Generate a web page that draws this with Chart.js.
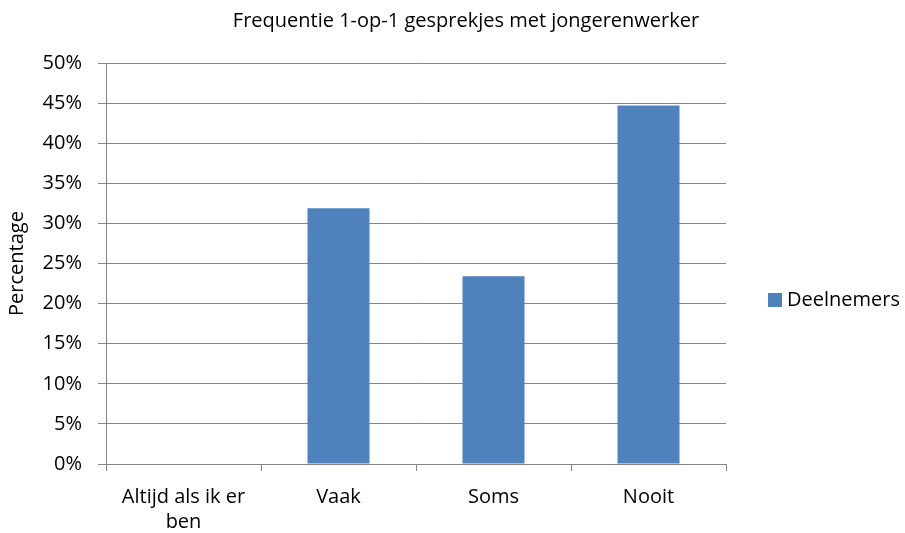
<!DOCTYPE html>
<html>
<head>
<meta charset="utf-8">
<script src="https://cdn.jsdelivr.net/npm/chart.js@4.4.1/dist/chart.umd.min.js"></script>
<style>
html,body{margin:0;padding:0;background:#fff;}
#wrap{width:905px;height:533px;position:relative;}
</style>
</head>
<body>
<div id="wrap"><canvas id="c" width="905" height="533"></canvas></div>
<script>
const categories = [['Altijd als ik er', 'ben'], 'Vaak', 'Soms', 'Nooit'];
const seriesName = 'Deelnemers';
const values = [0, 31.9, 23.4, 44.7];
const yTicks = [0, 5, 10, 15, 20, 25, 30, 35, 40, 45, 50];
const titleText = 'Frequentie 1-op-1 gesprekjes met jongerenwerker';
const yTitle = 'Percentage';

const FONT = "'Open Sans', sans-serif";
const barColor = '#4F81BD';

const extrasPlugin = {
  id: 'extras',
  afterDraw(chart) {
    const ctx = chart.ctx;
    ctx.save();
    // title
    ctx.fillStyle = '#000';
    ctx.font = "20px " + FONT;
    ctx.textBaseline = 'middle';
    ctx.textAlign = 'center';
    ctx.fillText(titleText, 466, 21);
    // legend
    ctx.fillStyle = barColor;
    ctx.fillRect(768, 293, 14, 14);
    ctx.fillStyle = '#000';
    ctx.textAlign = 'left';
    ctx.fillText(seriesName, 787, 300);
    ctx.restore();
  }
};

new Chart(document.getElementById('c'), {
  type: 'bar',
  data: {
    labels: categories,
    datasets: [{
      label: seriesName,
      data: values,
      backgroundColor: barColor,
      borderWidth: 0,
      categoryPercentage: 0.4,
      barPercentage: 1.0
    }]
  },
  options: {
    responsive: false,
    animation: false,
    devicePixelRatio: 1,
    layout: { padding: { left: 0, right: 179, top: 63, bottom: 0 } },
    plugins: {
      legend: { display: false },
      tooltip: { enabled: false },
      title: { display: false }
    },
    scales: {
      x: {
        offset: true,
        grid: {
          display: true,
          offset: true,
          drawOnChartArea: false,
          drawTicks: true,
          tickLength: 7,
          color: '#868686',
          lineWidth: 1
        },
        border: { display: true, color: '#868686', width: 1 },
        ticks: {
          color: '#000',
          font: { family: FONT, size: 20, lineHeight: 1.25 },
          padding: 14,
          maxRotation: 0,
          autoSkip: false
        },
        afterFit(scale) { scale.height = 69; }
      },
      y: {
        min: 0,
        max: 50,
        afterBuildTicks(scale) { scale.ticks = yTicks.map(v => ({ value: v })); },
        grid: {
          color: '#868686',
          lineWidth: 1,
          tickLength: 8,
          drawTicks: true
        },
        border: { display: true, color: '#868686', width: 1 },
        ticks: {
          color: '#000',
          font: { family: FONT, size: 20 },
          padding: 16,
          callback: v => v + '%'
        },
        title: {
          display: true,
          text: yTitle,
          color: '#000',
          font: { family: FONT, size: 20 },
          padding: { top: 5, bottom: 4 }
        },
        afterFit(scale) { scale.width = 106; }
      }
    }
  },
  plugins: [extrasPlugin]
});
</script>
</body>
</html>
